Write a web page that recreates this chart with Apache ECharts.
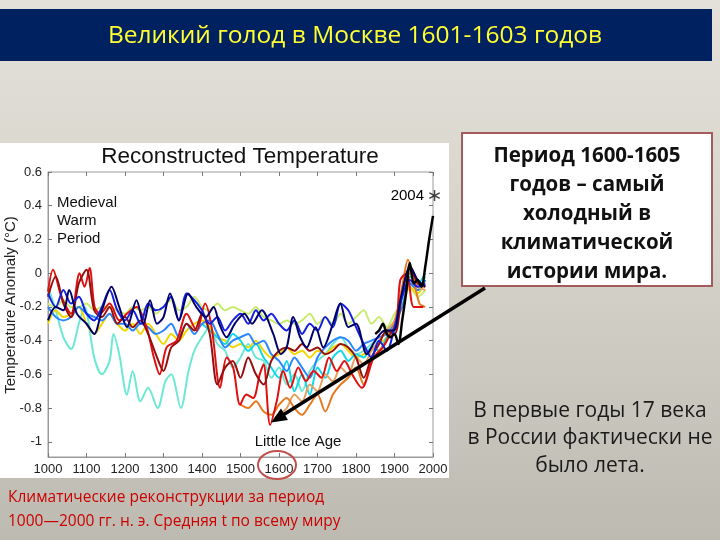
<!DOCTYPE html>
<html><head><meta charset="utf-8">
<script src="https://cdn.jsdelivr.net/npm/echarts@6/dist/echarts.min.js"></script>
<style>html,body{margin:0;padding:0;background:#d6d4ca}#c{width:720px;height:540px}</style>
</head><body><div id="c"></div>
<script>
// ---- data (years, temperature anomaly °C) ----
const xTicks = [1000,1100,1200,1300,1400,1500,1600,1700,1800,1900,2000];
const yTicks = [-1,-0.8,-0.6,-0.4,-0.2,0,0.2,0.4,0.6];

const aquamarine = [[1000,-0.08],[1020,-0.22],[1040,-0.38],[1060,-0.45],[1080,-0.3],[1095,-0.2],[1120,-0.5],[1140,-0.6],[1160,-0.52],[1170,-0.36],[1185,-0.48],[1205,-0.72],[1220,-0.58],[1240,-0.76],[1260,-0.68],[1285,-0.8],[1305,-0.64],[1320,-0.6],[1345,-0.8],[1365,-0.58],[1380,-0.46],[1400,-0.38],[1420,-0.32],[1440,-0.42],[1460,-0.46],[1480,-0.56],[1500,-0.5],[1520,-0.42],[1540,-0.5],[1560,-0.52],[1580,-0.62],[1600,-0.56],[1620,-0.66],[1640,-0.6],[1660,-0.7],[1680,-0.58],[1700,-0.52],[1720,-0.48],[1740,-0.42],[1760,-0.38],[1780,-0.44],[1800,-0.48],[1820,-0.46],[1840,-0.42],[1860,-0.4],[1880,-0.34],[1900,-0.3],[1920,-0.18],[1940,-0.06],[1960,-0.1],[1980,-0.02]];
const yellowgreen = [[1000,-0.18],[1020,-0.2],[1040,-0.16],[1060,-0.2],[1080,-0.2],[1100,-0.18],[1120,-0.22],[1140,-0.2],[1160,-0.2],[1180,-0.22],[1200,-0.24],[1220,-0.2],[1240,-0.22],[1260,-0.2],[1280,-0.24],[1300,-0.2],[1320,-0.16],[1340,-0.22],[1360,-0.2],[1380,-0.14],[1400,-0.2],[1420,-0.22],[1440,-0.18],[1460,-0.22],[1480,-0.2],[1500,-0.22],[1520,-0.24],[1540,-0.2],[1560,-0.26],[1580,-0.28],[1600,-0.3],[1620,-0.28],[1640,-0.3],[1660,-0.28],[1680,-0.24],[1700,-0.3],[1720,-0.26],[1740,-0.3],[1760,-0.24],[1780,-0.3],[1800,-0.26],[1820,-0.22],[1840,-0.3],[1860,-0.26],[1880,-0.32],[1900,-0.24],[1920,-0.18],[1940,-0.08],[1960,-0.14],[1980,-0.1]];
const yellow = [[1000,-0.3],[1020,-0.22],[1040,-0.26],[1060,-0.24],[1080,-0.2],[1100,-0.3],[1120,-0.36],[1140,-0.3],[1160,-0.24],[1180,-0.3],[1200,-0.34],[1220,-0.3],[1240,-0.36],[1260,-0.3],[1280,-0.36],[1300,-0.42],[1320,-0.36],[1340,-0.4],[1360,-0.34],[1380,-0.3],[1400,-0.28],[1420,-0.32],[1440,-0.38],[1460,-0.4],[1480,-0.44],[1500,-0.42],[1520,-0.44],[1540,-0.4],[1560,-0.46],[1580,-0.5],[1600,-0.48],[1620,-0.44],[1640,-0.48],[1660,-0.46],[1680,-0.5],[1700,-0.46],[1720,-0.48],[1740,-0.44],[1760,-0.42],[1780,-0.46],[1800,-0.5],[1820,-0.48],[1840,-0.46],[1860,-0.42],[1880,-0.38],[1900,-0.3],[1920,-0.2],[1940,-0.08],[1960,-0.12],[1980,-0.04]];
const cyan = [[1400,-0.3],[1420,-0.34],[1440,-0.38],[1460,-0.42],[1480,-0.36],[1500,-0.4],[1520,-0.46],[1540,-0.42],[1560,-0.5],[1580,-0.56],[1600,-0.62],[1620,-0.52],[1640,-0.7],[1660,-0.6],[1680,-0.72],[1700,-0.56],[1720,-0.62],[1740,-0.5],[1760,-0.46],[1780,-0.52],[1800,-0.48],[1820,-0.5],[1840,-0.44],[1860,-0.46],[1880,-0.38],[1900,-0.34],[1920,-0.14],[1940,-0.02],[1960,-0.06],[1980,0.0]];
const dodgerblue = [[1000,-0.2],[1020,-0.26],[1040,-0.28],[1060,-0.26],[1080,-0.2],[1100,-0.24],[1120,-0.26],[1140,-0.28],[1160,-0.24],[1180,-0.3],[1200,-0.3],[1220,-0.34],[1240,-0.3],[1260,-0.32],[1280,-0.36],[1300,-0.34],[1320,-0.3],[1340,-0.38],[1360,-0.3],[1380,-0.36],[1400,-0.3],[1420,-0.28],[1440,-0.36],[1460,-0.44],[1480,-0.4],[1500,-0.38],[1520,-0.36],[1540,-0.42],[1560,-0.4],[1580,-0.48],[1600,-0.52],[1620,-0.58],[1640,-0.5],[1660,-0.56],[1680,-0.62],[1700,-0.5],[1720,-0.44],[1740,-0.4],[1760,-0.38],[1780,-0.4],[1800,-0.46],[1820,-0.42],[1840,-0.4],[1860,-0.38],[1880,-0.36],[1900,-0.3],[1920,-0.2],[1940,-0.06],[1960,-0.1],[1980,-0.04]];
const orange = [[1500,-0.78],[1520,-0.8],[1540,-0.76],[1560,-0.82],[1580,-0.84],[1600,-0.78],[1620,-0.74],[1640,-0.8],[1660,-0.84],[1680,-0.78],[1700,-0.72],[1720,-0.82],[1740,-0.72],[1760,-0.66],[1780,-0.62],[1800,-0.56],[1820,-0.66],[1840,-0.52],[1860,-0.46],[1880,-0.4],[1900,-0.3],[1920,-0.08],[1935,0.08],[1950,-0.04],[1965,-0.18],[1980,-0.2]];
const sandy = [[1600,-0.84],[1620,-0.8],[1640,-0.72],[1660,-0.76],[1680,-0.66],[1700,-0.7],[1720,-0.6],[1740,-0.64],[1760,-0.56],[1780,-0.6],[1800,-0.5],[1820,-0.54],[1840,-0.46],[1860,-0.4],[1880,-0.34],[1900,-0.28],[1920,-0.1],[1940,0.0],[1960,-0.08],[1980,-0.1]];
const red = [[1000,-0.11],[1013,0.02],[1035,-0.14],[1060,-0.24],[1082,0.0],[1095,-0.08],[1108,0.03],[1121,-0.2],[1135,-0.24],[1160,-0.18],[1185,-0.28],[1205,-0.24],[1230,-0.2],[1256,-0.32],[1275,-0.5],[1290,-0.6],[1308,-0.44],[1334,-0.4],[1360,-0.24],[1386,-0.34],[1408,-0.18],[1425,-0.32],[1447,-0.68],[1464,-0.5],[1481,-0.56],[1499,-0.78],[1515,-0.72],[1533,-0.74],[1550,-0.6],[1560,-0.54],[1577,-0.9],[1594,-0.76],[1611,-0.58],[1629,-0.68],[1650,-0.56],[1670,-0.64],[1690,-0.58],[1710,-0.62],[1730,-0.5],[1750,-0.58],[1770,-0.52],[1790,-0.6],[1815,-0.68],[1846,-0.5],[1870,-0.44],[1889,-0.36],[1905,-0.3],[1915,-0.04],[1932,0.0],[1950,-0.2],[1975,-0.2]];
const darkred = [[1000,-0.14],[1020,-0.02],[1040,-0.18],[1060,-0.26],[1080,-0.06],[1100,0.02],[1120,-0.22],[1140,-0.26],[1160,-0.2],[1180,-0.3],[1200,-0.26],[1220,-0.32],[1240,-0.28],[1260,-0.36],[1280,-0.48],[1300,-0.58],[1320,-0.44],[1340,-0.4],[1360,-0.3],[1380,-0.34],[1400,-0.24],[1420,-0.36],[1440,-0.66],[1460,-0.56],[1480,-0.52],[1500,-0.62],[1520,-0.5],[1540,-0.6],[1560,-0.66],[1580,-0.52],[1600,-0.46],[1620,-0.44],[1640,-0.46],[1660,-0.42],[1680,-0.46],[1700,-0.44],[1720,-0.48],[1740,-0.46],[1760,-0.42],[1780,-0.44],[1800,-0.5],[1820,-0.62],[1840,-0.5],[1860,-0.42],[1880,-0.34],[1900,-0.36],[1920,-0.12],[1940,0.04],[1960,-0.06],[1980,-0.08]];
const blue = [[1000,-0.12],[1020,-0.2],[1040,-0.1],[1060,-0.18],[1080,-0.14],[1100,-0.24],[1120,-0.28],[1140,-0.2],[1160,-0.1],[1180,-0.22],[1200,-0.28],[1220,-0.22],[1240,-0.3],[1260,-0.18],[1280,-0.22],[1300,-0.2],[1320,-0.14],[1340,-0.28],[1360,-0.12],[1380,-0.16],[1400,-0.22],[1420,-0.3],[1440,-0.26],[1460,-0.34],[1480,-0.28],[1500,-0.24],[1520,-0.3],[1540,-0.22],[1560,-0.28],[1580,-0.24],[1600,-0.3],[1620,-0.34],[1640,-0.28],[1660,-0.36],[1680,-0.3],[1700,-0.34],[1720,-0.26],[1740,-0.32],[1760,-0.18],[1780,-0.22],[1800,-0.32],[1820,-0.42],[1840,-0.5],[1860,-0.4],[1880,-0.46],[1900,-0.32],[1920,-0.14],[1940,-0.04],[1960,-0.08],[1980,-0.06]];
const navy = [[1000,-0.28],[1020,-0.2],[1040,-0.22],[1055,-0.1],[1075,-0.24],[1100,-0.3],[1120,-0.36],[1140,-0.22],[1165,-0.08],[1185,-0.2],[1205,-0.32],[1230,-0.16],[1248,-0.3],[1265,-0.16],[1283,-0.3],[1300,-0.26],[1317,-0.12],[1340,-0.28],[1364,-0.12],[1385,-0.2],[1410,-0.26],[1430,-0.2],[1445,-0.3],[1464,-0.38],[1485,-0.3],[1510,-0.24],[1530,-0.3],[1555,-0.22],[1585,-0.36],[1605,-0.48],[1620,-0.44],[1637,-0.26],[1655,-0.38],[1672,-0.44],[1695,-0.32],[1715,-0.44],[1740,-0.3],[1759,-0.18],[1780,-0.32],[1800,-0.3],[1828,-0.48],[1850,-0.4],[1875,-0.34],[1898,-0.34],[1915,-0.16],[1941,0.04],[1960,-0.04],[1980,-0.08]];
const instrumental = [[1850,-0.36],[1860,-0.34],[1870,-0.3],[1880,-0.36],[1890,-0.38],[1900,-0.36],[1910,-0.42],[1920,-0.28],[1930,-0.12],[1940,0.06],[1950,-0.06],[1960,-0.04],[1970,-0.08],[1980,0.04],[1990,0.2],[2000,0.34]];
const latest = [[2004,0.46]];

const seriesDefs = [
  ['Aquamarine', aquamarine, '#6ce8d4'],
  ['YellowGreen', yellowgreen, '#c8ec70'],
  ['Yellow', yellow, '#f2d600'],
  ['Cyan', cyan, '#10d8e8'],
  ['DodgerBlue', dodgerblue, '#2a86ff'],
  ['Sandy', sandy, '#e8a060'],
  ['Orange', orange, '#e67a20'],
  ['Red', red, '#e01010'],
  ['DarkRed', darkred, '#960e0e'],
  ['Blue', blue, '#1420e0'],
  ['Navy', navy, '#00006a'],
  ['Instrumental', instrumental, '#000000']
];

const chart = echarts.init(document.getElementById('c'), null, {renderer: 'canvas'});
const FONT = 'Liberation Sans, Arial, sans-serif';
const SLIDE_FONT = 'Open Sans, Noto Sans, sans-serif';

const series = seriesDefs.map(([name, data, color]) => ({
  name, type: 'line', data, showSymbol: false, smooth: 0.3,
  lineStyle: {color, width: name === 'Instrumental' ? 2.5 : 2},
  itemStyle: {color}, z: 3, silent: true
}));
// asterisk marker for 2004
series.push({
  name: '2004', type: 'scatter', data: latest, z: 5, clip: false, silent: true,
  symbol: 'path://M-0.6,5L-0.6,-5L0.6,-5L0.6,5Z M4.03,3.02L-4.63,-1.98L-4.03,-3.02L4.63,1.98Z M-4.63,1.98L4.03,-3.02L4.63,-1.98L-4.03,3.02Z',
  symbolSize: [11, 11], itemStyle: {color: '#111'},
  label: {show: true, position: 'left', distance: 5, formatter: '2004', fontSize: 15, color: '#000', opacity: 1, fontFamily: FONT}
});

const tickFmt = v => {
  const r = Math.round(v * 10) / 10;
  return r === 0 ? '0' : String(r);
};

const option = {
  animation: false,
  backgroundColor: 'transparent',
  grid: {left: 48, right: 287, top: 172, bottom: 83, outerBoundsMode: 'none', containLabel: false, show: true, borderColor: '#9a9a9a', borderWidth: 1, backgroundColor: '#ffffff'},
  xAxis: [{
    type: 'value', min: 1000, max: 2000, interval: 100,
    axisLine: {show: true, onZero: false, lineStyle: {color: '#9a9a9a'}},
    axisTick: {show: true, inside: true, length: 4, lineStyle: {color: '#777'}},
    splitLine: {show: false},
    axisLabel: {color: '#222', fontSize: 13, margin: 6, fontFamily: FONT, formatter: v => String(v)}
  }, {
    type: 'value', min: 1000, max: 2000, interval: 100, position: 'top',
    axisLine: {show: false, onZero: false}, axisTick: {show: true, inside: true, length: 4, lineStyle: {color: '#777'}},
    splitLine: {show: false}, axisLabel: {show: false}
  }],
  yAxis: [{
    type: 'value', min: -1.09, max: 0.6,
    axisLine: {show: true, onZero: false, lineStyle: {color: '#9a9a9a'}},
    axisTick: {show: true, inside: true, length: 4, customValues: yTicks, lineStyle: {color: '#777'}},
    splitLine: {show: false},
    axisLabel: {color: '#222', fontSize: 13, margin: 6, fontFamily: FONT, customValues: yTicks, formatter: tickFmt}
  }, {
    type: 'value', min: -1.09, max: 0.6, position: 'right',
    axisLine: {show: false, onZero: false},
    axisTick: {show: true, inside: true, length: 4, customValues: yTicks, lineStyle: {color: '#777'}},
    splitLine: {show: false}, axisLabel: {show: false}
  }],
  series,
  graphic: [
    {type: 'rect', z: -100, silent: true, shape: {x: 0, y: 0, width: 720, height: 540},
     style: {fill: {type: 'linear', x: 0, y: 0, x2: 0, y2: 1, colorStops: [{offset: 0, color: '#e3e1d9'}, {offset: 0.5, color: '#d4d2c8'}, {offset: 1, color: '#bdbbb1'}]}}},
    {type: 'rect', z: -90, silent: true, shape: {x: 0, y: 143, width: 449, height: 335}, style: {fill: '#ffffff'}},
    {type: 'rect', z: -80, silent: true, shape: {x: 0, y: 9, width: 712, height: 52}, style: {fill: '#00215f'}},
    {type: 'text', z: 10, silent: true, x: 355, y: 36, style: {text: 'Великий голод в Москве 1601-1603 годов', fill: '#ffff33', font: '24.5px ' + SLIDE_FONT, textAlign: 'center', textVerticalAlign: 'middle'}},
    {type: 'text', z: 10, silent: true, x: 240, y: 157, style: {text: 'Reconstructed Temperature', fill: '#111', font: '22.5px ' + FONT, textAlign: 'center', textVerticalAlign: 'middle'}},
    {type: 'text', z: 10, silent: true, x: 11, y: 305, rotation: Math.PI / 2, style: {text: 'Temperature Anomaly (°C)', fill: '#222', font: '15px ' + FONT, textAlign: 'center', textVerticalAlign: 'middle'}},
    {type: 'text', z: 10, silent: true, x: 57, y: 194, style: {text: 'Medieval\nWarm\nPeriod', fill: '#111', font: '15px ' + FONT, lineHeight: 18, textAlign: 'left', textVerticalAlign: 'top'}},
    {type: 'text', z: 10, silent: true, x: 298, y: 442, style: {text: 'Little Ice Age', fill: '#111', font: '15px ' + FONT, textAlign: 'center', textVerticalAlign: 'middle'}},
    {type: 'ellipse', z: 20, silent: true, shape: {cx: 277, cy: 465, rx: 19, ry: 14}, style: {fill: 'none', stroke: '#c0504d', lineWidth: 2}},
    {type: 'rect', z: 10, silent: true, shape: {x: 462, y: 133, width: 250, height: 153}, style: {fill: '#ffffff', stroke: '#a35b5b', lineWidth: 2}},
    {type: 'text', z: 11, silent: true, x: 587, y: 142, style: {text: 'Период 1600-1605\nгодов – самый\nхолодный в\nклиматической\nистории мира.', fill: '#111', font: 'bold 20.5px ' + SLIDE_FONT, lineHeight: 29, textAlign: 'center', textVerticalAlign: 'top'}},
    {type: 'text', z: 11, silent: true, x: 590, y: 397, style: {text: 'В первые годы 17 века\nв России фактически не\nбыло лета.', fill: '#1a1a1a', font: '21px ' + SLIDE_FONT, lineHeight: 27.5, textAlign: 'center', textVerticalAlign: 'top'}},
    {type: 'text', z: 11, silent: true, x: 8, y: 486, style: {text: 'Климатические реконструкции за период\n1000—2000 гг. н. э. Средняя t по всему миру', fill: '#cc0000', font: '15.5px ' + SLIDE_FONT, lineHeight: 24, textAlign: 'left', textVerticalAlign: 'top'}},
    {type: 'line', z: 100, silent: true, shape: {x1: 485, y1: 288, x2: 283, y2: 415}, style: {stroke: '#000', lineWidth: 3.5}},
    {type: 'polygon', z: 100, silent: true, shape: {points: [[271, 422.5], [288, 420], [281, 408.5]]}, style: {fill: '#000'}}
  ]
};
chart.setOption(option);
</script>
</body></html>
